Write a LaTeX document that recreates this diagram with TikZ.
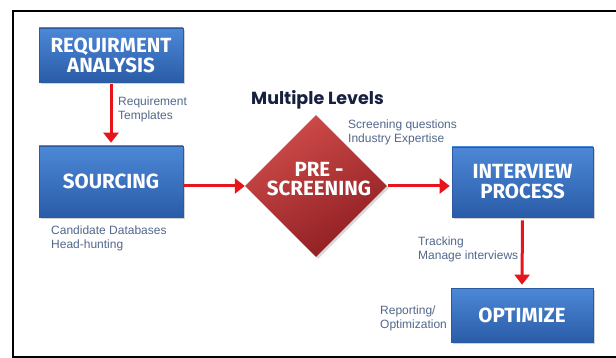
\documentclass[tikz,border=0pt]{standalone}
\usepackage{fontspec}
\setmainfont{Liberation Sans}
\newfontfamily\boxfont{Fira Sans}
\newfontfamily\headfont{Poppins}
\usetikzlibrary{shapes.geometric,arrows.meta,shadows}
\definecolor{boxtop}{HTML}{4C88D6}
\definecolor{boxbot}{HTML}{2A5CA8}
\definecolor{boxedge}{HTML}{2A5AA0}
\definecolor{redtop}{HTML}{D04C4A}
\definecolor{redbot}{HTML}{8E1E22}
\definecolor{arrred}{HTML}{E8141C}
\definecolor{lbl}{HTML}{52688C}
\definecolor{navy}{HTML}{17203F}
\tikzset{
  bluebox/.style={rectangle, top color=boxtop, bottom color=boxbot, draw=boxedge, line width=0.6pt,
    text=white, font=\boxfont\bfseries\fontsize{20.5}{21}\selectfont, align=center, inner sep=0pt,
    drop shadow={opacity=0.35, shadow xshift=2pt, shadow yshift=-2pt}},
  arr/.style={draw=arrred, line width=3pt, -{Triangle[length=10pt,width=15pt]}},
  lbltext/.style={anchor=north west, inner sep=0pt, text=lbl, align=left,
    font=\fontsize{12}{14}\selectfont},
}
\begin{document}
\begin{tikzpicture}[x=1pt,y=-1pt]
\useasboundingbox (0,0) rectangle (616,358);
\fill[white] (0,0) rectangle (616,358);
\draw[line width=2pt] (616,11) -- (13,11) -- (13,357) -- (616,357);

\node[bluebox, minimum width=144pt, minimum height=54pt] (req) at (111,55) {REQUIRMENT\\[-1pt]ANALYSIS};
\node[bluebox, minimum width=144pt, minimum height=71pt] (src) at (111,181.5) {SOURCING};
\node[bluebox, minimum width=141pt, minimum height=70pt] (int) at (522.5,182) {INTERVIEW\\[-1pt]PROCESS};
\node[bluebox, minimum width=142pt, minimum height=54pt] (opt) at (522,315) {OPTIMIZE};

\node[diamond, aspect=1, minimum width=142pt, minimum height=142pt, inner sep=0pt,
  shading=axis, top color=redtop, bottom color=redbot, shading angle=30,
  drop shadow={opacity=0.3, shadow xshift=2pt, shadow yshift=-2pt}] (pre) at (316,186) {};
\node[text=white, font=\boxfont\bfseries\fontsize{20.5}{19}\selectfont, align=center, inner sep=0pt] (pretxt) at (319,179) {PRE -\\SCREENING};

\node[anchor=west, inner sep=0pt, text=navy, font=\headfont\bfseries\fontsize{17.5}{19}\selectfont] (multi) at (251,100) {Multiple Levels};

\node[lbltext] (l1) at (118,97) {Requirement\\Templates};
\node[lbltext] (l2) at (51,226) {Candidate Databases\\Head-hunting};
\node[lbltext] (l3) at (348,120) {Screening questions\\Industry Expertise};
\node[lbltext] (l4) at (418,237) {Tracking\\Manage interviews};
\node[lbltext] (l5) at (380,306) {Reporting/\\Optimization};

\draw[arr, shorten <=2pt, shorten >=3pt] (req.south) -- (src.north);
\draw[arr, shorten <=1pt] (src.east |- pre.west) -- (pre.west);
\draw[arr, shorten <=1pt, shorten >=2pt] (pre.east) -- (pre.east -| int.west);
\draw[arr, shorten <=3pt, shorten >=3pt] (int.south) -- (opt.north);
\end{tikzpicture}
\end{document}
